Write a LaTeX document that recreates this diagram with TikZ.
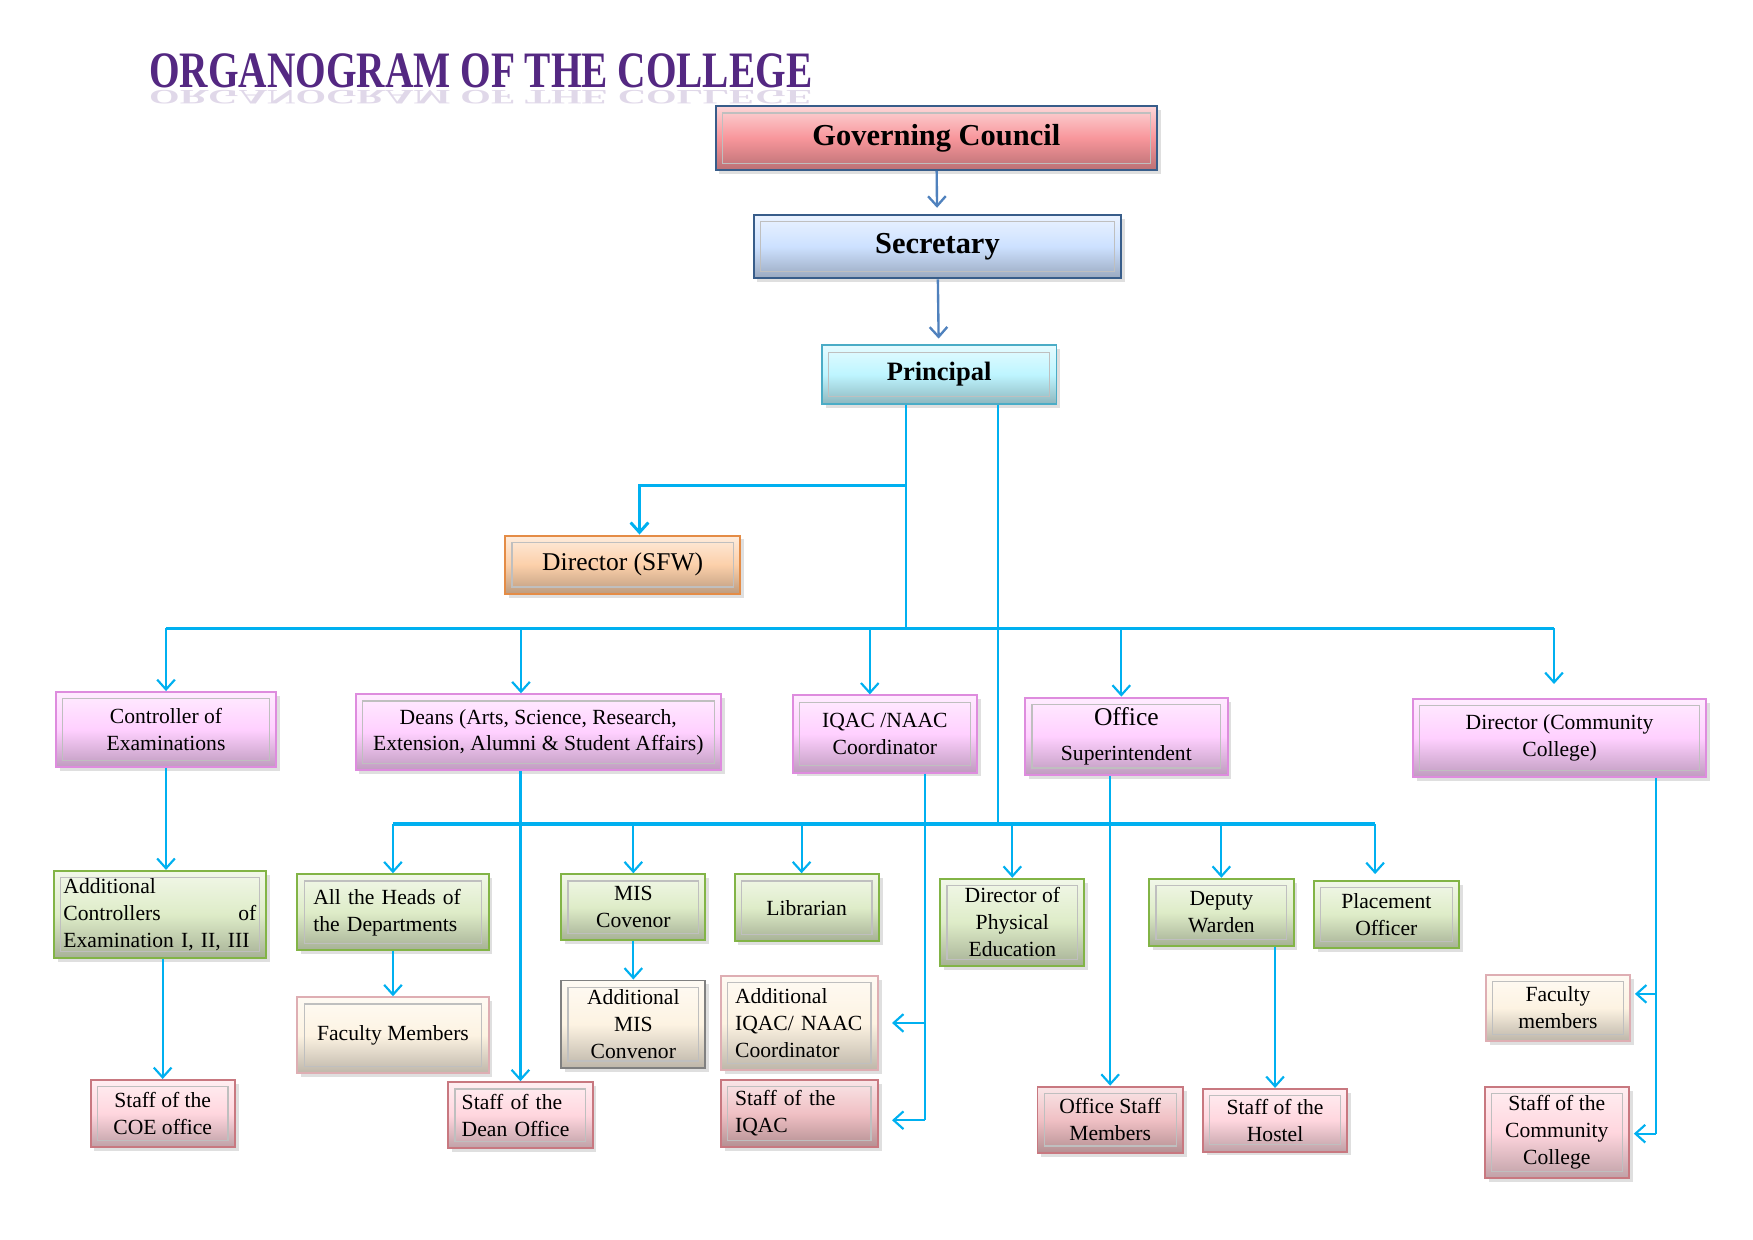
\documentclass[tikz,border=0pt]{standalone}
\usepackage{fontspec}
\setmainfont{Liberation Serif}
\newfontfamily\titlefont{Liberation Serif}[FakeStretch=0.77]
\usepackage{tikz}
\usetikzlibrary{arrows.meta,shadows}
\definecolor{gcfill}{RGB}{248,150,155}
\definecolor{secfill}{RGB}{205,225,255}
\definecolor{prinfill}{RGB}{190,245,255}
\definecolor{sfwfill}{RGB}{252,208,170}
\definecolor{pinkfill}{RGB}{255,208,255}
\definecolor{greenfill}{RGB}{222,236,200}
\definecolor{creamfill}{RGB}{253,243,226}
\definecolor{rosefill}{RGB}{255,214,222}
\definecolor{rosedark}{RGB}{240,192,196}
\definecolor{navyline}{RGB}{56,93,138}
\definecolor{tealline}{RGB}{75,172,198}
\definecolor{orangeline}{RGB}{228,140,70}
\definecolor{orchidline}{RGB}{222,140,222}
\definecolor{greenline}{RGB}{130,180,70}
\definecolor{roseline}{RGB}{200,120,128}
\definecolor{grayline}{RGB}{128,128,128}
\definecolor{cyanline}{RGB}{0,176,240}
\definecolor{steelline}{RGB}{79,129,189}
\definecolor{titlepurple}{RGB}{84,40,130}

\begin{document}
\begin{tikzpicture}[x=0.02cm, y=-0.02cm, >={Straight Barb[length=5pt,width=9pt]},
box/.style 2 args={draw=#2, line width=1pt, top color=#1!40!white, bottom color=#1!75!black, middle color=#1,
  drop shadow={opacity=.25, shadow xshift=2pt, shadow yshift=-2pt}, inner sep=2pt, align=center,
  font=\fontsize{11}{13.7}\selectfont,
  path picture={\draw[black!25, line width=.6pt] ([shift={(.12cm,.12cm)}]path picture bounding box.south west) rectangle ([shift={(-.12cm,-.12cm)}]path picture bounding box.north east);}},
boxsize/.style 2 args={minimum width=#1*0.02cm, minimum height=#2*0.02cm},
pinkbox/.style={box={pinkfill}{orchidline}},
greenbox/.style={box={greenfill}{greenline}},
creambox/.style={box={creamfill}{roseline!60!white}},
rosebox/.style={box={rosefill}{roseline}},
topfont/.style={font=\fontsize{15.5}{18}\selectfont\bfseries},
toplink/.style={steelline, line width=1.2pt},
link/.style={cyanline, line width=1.1pt},
bus/.style={cyanline, line width=1.8pt}]
\useasboundingbox (0,0) rectangle (1568,1109);

\node (title) at (430,63) [titlepurple, font=\titlefont\fontsize{26}{28}\selectfont\bfseries] {ORGANOGRAM OF THE COLLEGE};
\node (titleshade) at (430,87) [titlepurple!18, font=\titlefont\fontsize{26}{28}\selectfont\bfseries] {\scalebox{1}[-0.4]{ORGANOGRAM OF THE COLLEGE}};

\node (gc) at (837.5,123.5) [box={gcfill}{navyline}, boxsize={395}{57}, topfont] {Governing Council};
\node (sec) at (838.5,220.5) [box={secfill}{navyline}, boxsize={329}{57}, topfont] {Secretary};
\node (prin) at (840,335) [box={prinfill}{tealline}, boxsize={210}{52}, font=\fontsize{13.5}{16}\selectfont\bfseries] {Principal};
\node (sfw) at (557,505) [box={sfwfill}{orangeline}, boxsize={210}{52}, font=\fontsize{13}{16}\selectfont] {Director (SFW)};

\node (coe) at (148.5,652.5) [pinkbox, boxsize={197}{67}] {Controller of\\Examinations};
\node (deans) at (481.5,655) [pinkbox, boxsize={327}{68}] {Deans (Arts, Science, Research,\\Extension, Alumni \& Student Affairs)};
\node (iqac) at (791.5,656.5) [pinkbox, boxsize={165}{69}] {IQAC /NAAC\\Coordinator};
\node (os) at (1007.5,658.5) [pinkbox, boxsize={181}{69}] {{\fontsize{13}{16}\selectfont Office}\\[4pt]Superintendent};
\node (dcc) at (1395,660) [pinkbox, boxsize={262}{70}] {Director (Community\\College)};

\node (addc) at (143,818) [greenbox, boxsize={190}{78}, align=left, text width=3.45cm] {Additional\\Controllers\hfill of\\Examination I, II, III};
\node (heads) at (351.5,816) [greenbox, boxsize={171}{68}, align=left, text width=2.85cm] {All the Heads of\\the Departments};
\node (mis) at (566.5,811.5) [greenbox, boxsize={129}{59}] {MIS\\Covenor};
\node (lib) at (721.5,812) [greenbox, boxsize={129}{60}] {Librarian};
\node (dpe) at (905.5,825) [greenbox, boxsize={129}{78}] {Director of\\Physical\\Education};
\node (dw) at (1092.5,816) [greenbox, boxsize={129}{60}] {Deputy\\Warden};
\node (po) at (1240,818) [greenbox, boxsize={130}{60}] {Placement\\Officer};

\node (coes) at (145.5,996) [rosebox, boxsize={129}{60}] {Staff of the\\COE office};
\node (fac) at (351.5,926) [creambox, boxsize={171}{68}] {Faculty Members};
\node (deanst) at (465.5,997.5) [rosebox, boxsize={129}{59}, align=left, text width=2.1cm] {Staff of the\\Dean Office};
\node (amis) at (566.5,916) [box={creamfill}{grayline}, boxsize={129}{78}] {Additional\\MIS\\Convenor};
\node (aiqac) at (715,915) [creambox, boxsize={140}{84}, align=left, text width=2.3cm] {Additional\\IQAC/ NAAC\\Coordinator};
\node (iqst) at (715,996) [box={rosedark}{roseline}, boxsize={140}{60}, align=left, text width=2.3cm] {Staff of the\\IQAC};
\node (osm) at (993,1001.5) [box={rosedark}{roseline}, boxsize={130}{59}] {Office Staff\\Members};
\node (hst) at (1140.5,1002) [rosebox, boxsize={129}{56}] {Staff of the\\Hostel};
\node (fcc) at (1393.5,901.5) [creambox, boxsize={129}{59}] {Faculty\\members};
\node (scc) at (1392.5,1013) [rosebox, boxsize={129}{82}] {Staff of the\\Community\\College};

\coordinate (pl) at (810,562);
\coordinate (pr) at (893,737);
\coordinate (sfwj) at (810,434);
\coordinate (b1l) at (148.5,562);
\coordinate (b1r) at (1390,562);
\coordinate (b2l) at (351.5,737);
\coordinate (b2r) at (1230,737);
\coordinate (iqx) at (827,1002);
\coordinate (ccx) at (1481,1014);
\coordinate (fccin) at ([yshift=.25cm]fcc.east);

\draw[->, toplink, shorten >=3pt] (gc) -- (sec);
\draw[->, toplink, shorten >=3pt] (sec) -- (prin);

\draw[link] (prin.south -| pl) -- (pl);
\draw[link] (prin.south -| pr) -- (pr);
\draw[->, link, line width=1.5pt] (sfwj) -| ([xshift=.3cm]sfw.north);

\draw[bus] (b1l) -- (b1r);
\draw[->, link] (b1l) -- (coe.north);
\draw[->, link] ([xshift=-.31cm]deans.north |- b1l) -- ([xshift=-.31cm]deans.north);
\draw[->, link] ([xshift=-.27cm]iqac.north |- b1l) -- ([xshift=-.27cm]iqac.north);
\draw[->, link] ([xshift=-.09cm]os.north |- b1l) -- ([xshift=-.09cm]os.north);
\draw[->, link, shorten >=7pt] (b1r) -- (b1r |- dcc.north);

\draw[bus] (b2l) -- (b2r);
\draw[->, link] (b2l) -- (heads.north);
\draw[->, link] (mis.north |- b2l) -- (mis.north);
\draw[->, link] ([xshift=-.09cm]lib.north |- b2l) -- ([xshift=-.09cm]lib.north);
\draw[->, link] (dpe.north |- b2l) -- (dpe.north);
\draw[->, link] (dw.north |- b2l) -- (dw.north);
\draw[->, link, shorten >=3pt] (b2r) -- (b2r |- po.north);

\draw[->, link] (coe.south) -- (coe.south |- addc.north);
\draw[->, link] (addc.south -| coes.north) -- (coes.north);
\draw[->, link] (heads.south) -- (fac.north);
\draw[->, link] (deanst.north |- deans.south) -- (deanst.north);
\draw[->, link] (mis.south) -- (amis.north);

\draw[link] (iqac.south -| iqx) -- (iqx);
\draw[->, link, shorten >=.24cm] (iqx |- aiqac.east) -- (aiqac.east);
\draw[->, link, shorten >=.24cm] (iqx) -- (iqx -| iqst.east);

\draw[->, link] (osm.north |- os.south) -- (osm.north);
\draw[->, link] (hst.north |- dw.south) -- (hst.north);

\draw[link] (dcc.south -| ccx) -- (ccx);
\draw[->, link, shorten >=2pt] (fccin -| ccx) -- (fccin);
\draw[->, link, shorten >=2pt] (ccx) -- (ccx -| scc.east);
\end{tikzpicture}
\end{document}
